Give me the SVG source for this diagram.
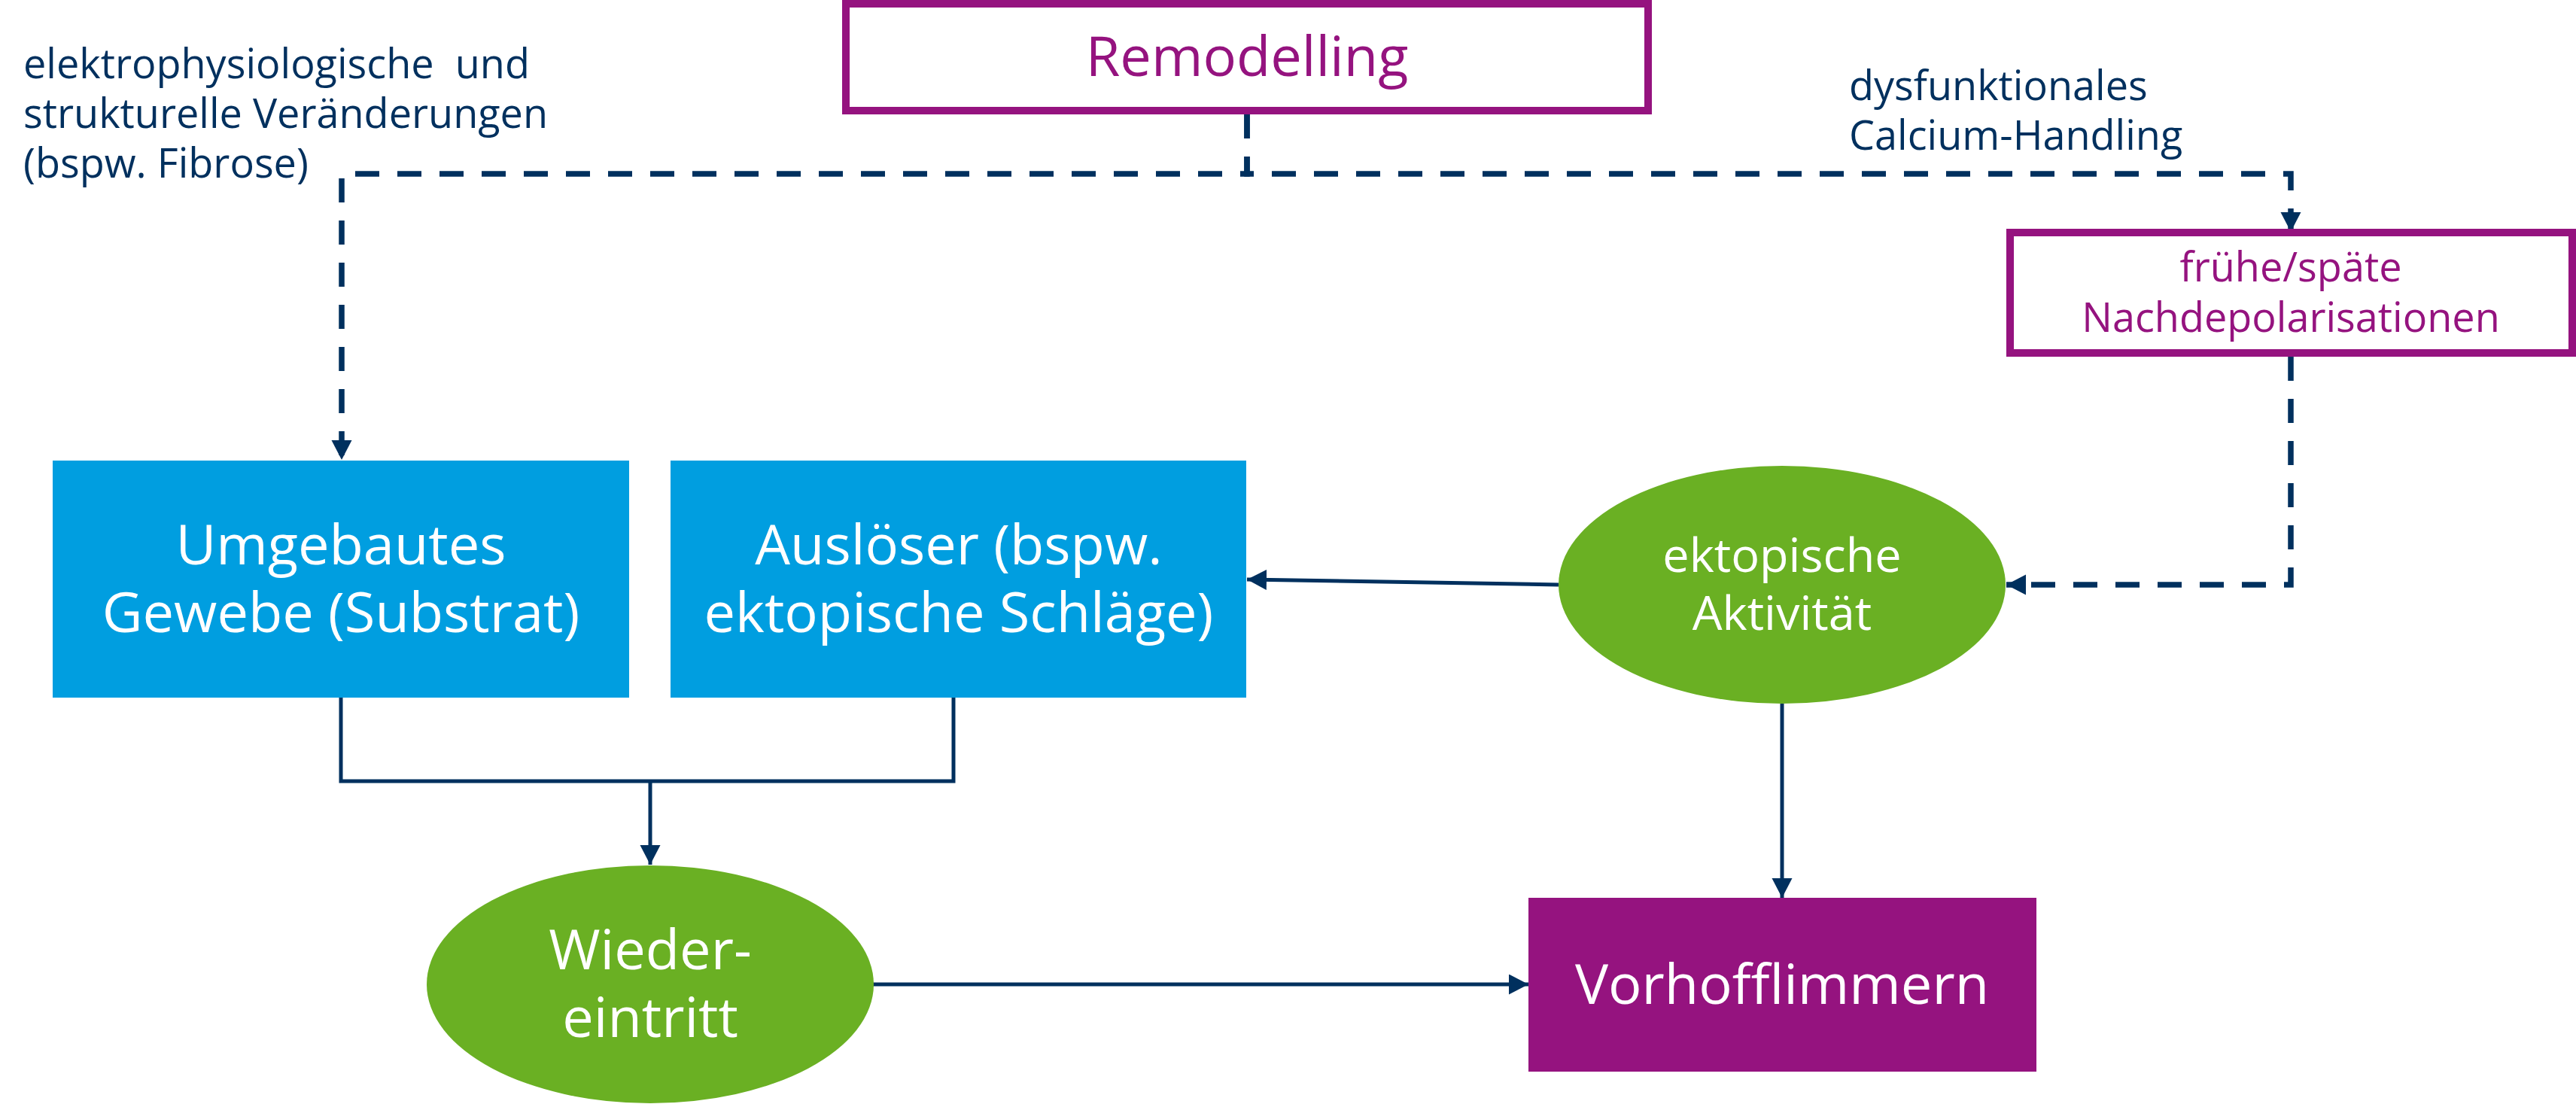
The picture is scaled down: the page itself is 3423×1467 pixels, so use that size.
<svg xmlns="http://www.w3.org/2000/svg" width="3423" height="1467" viewBox="0 0 3423 1467">
<defs>
<style>
text{font-family:"Open Sans","Noto Sans","Liberation Sans",sans-serif;}
.nav{fill:#00305E;font-size:54px;}
.big{fill:#FFFFFF;font-size:74px;text-anchor:middle;}
.mid{fill:#FFFFFF;font-size:63px;text-anchor:middle;}
.pur{fill:#95137F;text-anchor:middle;}
.blue{fill:#009EE0;}
.green{fill:#6AB023;}
.frame{fill:#FFFFFF;stroke:#95137F;stroke-width:10;}
.solid{fill:none;stroke:#00305E;stroke-width:5;}
.dash{fill:none;stroke:#00305E;stroke-width:7.5;stroke-dasharray:32 24;}
</style>
<marker id="arr" markerUnits="userSpaceOnUse" markerWidth="28" markerHeight="28" refX="26" refY="13.5" orient="auto">
<path d="M0,0 L26,13.5 L0,27 z" fill="#00305E"/>
</marker>
</defs>

<g id="labels">
<text class="nav" x="31" y="104" xml:space="preserve" style="white-space:pre">elektrophysiologische  und</text>
<text class="nav" x="31" y="170">strukturelle Veränderungen</text>
<text class="nav" x="31" y="236">(bspw. Fibrose)</text>
<text class="nav" x="2457" y="133">dysfunktionales</text>
<text class="nav" x="2457" y="199">Calcium-Handling</text>
</g>

<g id="connectors">
<path class="dash" d="M1657,152 V231 H454 V611" marker-end="url(#arr)"/>
<path class="dash" d="M1657,152 V231 H3044 V308" marker-end="url(#arr)"/>
<path class="dash" d="M3044,474 V777 H2666" marker-end="url(#arr)"/>
<path class="solid" d="M2071,777 L1657,770" marker-end="url(#arr)"/>
<path class="solid" d="M453,927 V1038 H1267 V927"/>
<path class="solid" d="M864,1038 V1149" marker-end="url(#arr)"/>
<path class="solid" d="M2368,935 V1193" marker-end="url(#arr)"/>
<path class="solid" d="M1160,1308 H2031" marker-end="url(#arr)"/>
</g>

<g id="remodelling">
<rect class="frame" x="1124" y="5" width="1066" height="142"/>
<text class="pur" x="1657" y="101" font-size="74">Remodelling</text>
</g>

<g id="nachdepolarisationen">
<rect class="frame" x="2671" y="309" width="747" height="160"/>
<text class="pur" x="3044" y="374" font-size="54">frühe/späte</text>
<text class="pur" x="3044" y="441" font-size="54">Nachdepolarisationen</text>
</g>

<g id="substrat">
<rect class="blue" x="70" y="612" width="766" height="315"/>
<text class="big" x="453" y="750">Umgebautes</text>
<text class="big" x="453" y="840">Gewebe (Substrat)</text>
</g>

<g id="ausloeser">
<rect class="blue" x="891" y="612" width="765" height="315"/>
<text class="big" x="1274" y="750">Auslöser (bspw.</text>
<text class="big" x="1274" y="840">ektopische Schläge)</text>
</g>

<g id="ektopische">
<ellipse class="green" cx="2368" cy="777" rx="297" ry="158"/>
<text class="mid" x="2368" y="760">ektopische</text>
<text class="mid" x="2368" y="837">Aktivität</text>
</g>

<g id="wiedereintritt">
<ellipse class="green" cx="864" cy="1308" rx="297" ry="158"/>
<text class="big" x="864" y="1288">Wieder-</text>
<text class="big" x="864" y="1378">eintritt</text>
</g>

<g id="vorhofflimmern">
<rect x="2031" y="1193" width="675" height="231" fill="#95137F"/>
<text class="big" x="2368" y="1334">Vorhofflimmern</text>
</g>
</svg>
